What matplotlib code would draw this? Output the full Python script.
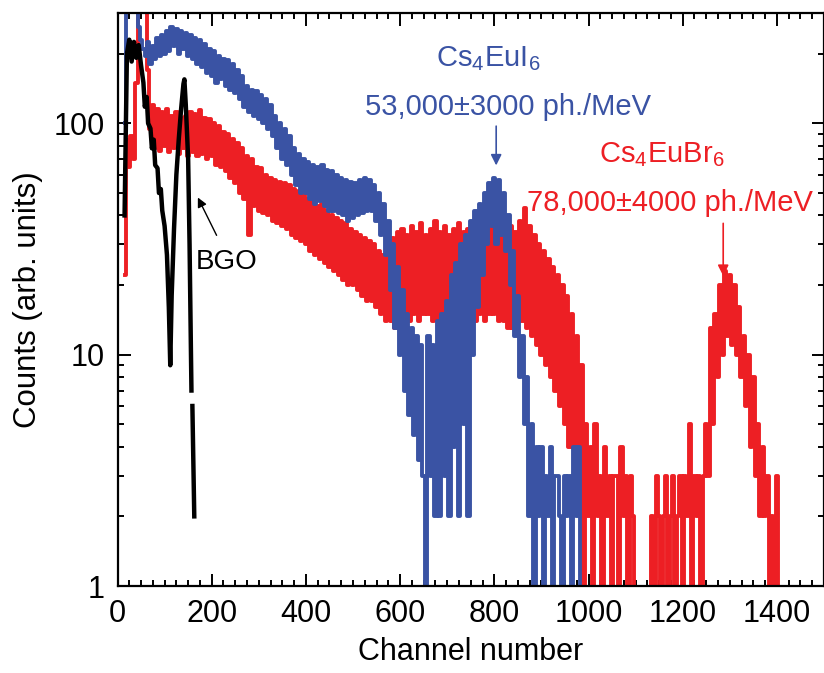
import numpy as np
import matplotlib
matplotlib.use("Agg")
import matplotlib.pyplot as plt
from matplotlib.ticker import MultipleLocator, FixedLocator, LogLocator, FuncFormatter, NullFormatter

BLUE = "#3a53a4"
RED = "#ed1f24"

# Cs4EuI6 spectrum, every 5th channel from 15 to 985 (0 = empty channel)
ch_eui = np.arange(15, 990, 5)
counts_eui = [
    100, 420, 520, 480, 380, 320, 260, 230, 210, 195,
    225, 180, 215, 190, 235, 195, 240, 200, 250, 205,
    262, 215, 255, 200, 250, 210, 245, 195, 240, 190,
    235, 180, 230, 175, 220, 165, 210, 160, 205, 150,
    195, 155, 190, 145, 188, 140, 180, 135, 170, 128,
    160, 118, 145, 112, 140, 108, 138, 104, 132, 100,
    128, 95, 120, 88, 108, 78, 100, 70, 95, 66,
    88, 60, 78, 54, 74, 50, 70, 50, 68, 47,
    66, 45, 65, 46, 66, 44, 63, 42, 62, 42,
    60, 41, 58, 40, 57, 38, 56, 39, 55, 40,
    57, 41, 58, 42, 57, 42, 54, 38, 50, 33,
    45, 27, 38, 19, 30, 13, 24, 10, 19, 7,
    15, 5.5, 13, 4.5, 12, 3.5, 11, 3, 0, 12,
    3, 11, 2, 14, 2, 15, 3, 17, 2, 22,
    4, 25, 2, 30, 5, 33, 2, 38, 10, 42,
    16, 45, 22, 50, 30, 55, 36, 58, 30, 57,
    33, 50, 28, 40, 20, 28, 12, 18, 8, 12,
    5, 8, 2, 5, 0, 4, 2, 4, 0, 3,
    2, 4, 0, 3, 3, 2, 0, 3, 2, 3,
    0, 4, 2, 4, 0,
]

# Cs4EuBr6 spectrum, every 5th channel from 15 to 1405
ch_eubr = np.arange(15, 1410, 5)
counts_eubr = [
    22, 85, 65, 88, 70, 150, 450, 600, 600, 420,
    170, 95, 120, 78, 115, 76, 112, 80, 115, 75,
    108, 78, 112, 74, 105, 78, 108, 72, 112, 75,
    110, 72, 114, 74, 105, 70, 104, 72, 100, 66,
    97, 65, 92, 62, 90, 58, 86, 55, 82, 50,
    78, 47, 72, 33, 70, 44, 65, 42, 64, 41,
    60, 40, 58, 38, 57, 37, 56, 36, 55, 35,
    54, 33, 52, 32, 51, 31, 50, 30, 47, 28,
    46, 27, 44, 26, 45, 25, 42, 24, 40, 23,
    39, 22, 38, 21, 37, 20, 35, 20, 34, 19,
    33, 18, 32, 17, 31, 17, 30, 16, 28, 15,
    27, 14, 29, 14, 32, 13, 34, 13, 35, 14,
    33, 14, 36, 15, 34, 14, 37, 15, 33, 15,
    35, 14, 38, 14, 34, 15, 36, 15, 33, 14,
    35, 14, 37, 15, 34, 14, 35, 14, 33, 14,
    36, 15, 34, 14, 33, 15, 36, 15, 34, 14,
    35, 14, 33, 13, 36, 13, 34, 14, 38, 14,
    43, 13, 36, 12, 33, 11, 30, 10, 28, 9,
    26, 8, 24, 7, 22, 6, 20, 5, 18, 4,
    15, 4, 12, 3, 9, 0, 5, 2, 4, 0,
    5, 2, 3, 0, 4, 2, 3, 0, 3, 3,
    0, 4, 2, 3, 0, 3, 2, 0, 0, 0,
    0, 0, 0, 0, 2, 0, 3, 2, 0, 2,
    3, 0, 2, 3, 0, 2, 3, 0, 3, 2,
    5, 0, 3, 2, 3, 0, 3, 5, 3, 13,
    5, 15, 8, 20, 10, 23, 12, 22, 11, 20,
    10, 16, 8, 12, 6, 10, 4, 8, 3, 5,
    2, 4, 2, 3, 0, 2, 0, 3, 0,
]

# BGO reference spectrum (nan = gap in the trace)
ch_bgo = [15, 20, 25, 30, 35, 40, 45, 50, 55, 58, 62, 65, 70, 73, 77, 80, 85, 88, 92, 95,
          100, 105, 109, 112, 115, 120, 125, 130, 135, 140, 142, 145, 150, 153, 156, 157,
          158, 159, 163]
counts_bgo = [40, 200, 230, 185, 225, 192, 218, 178, 150, 118, 130, 100, 95, 78, 85, 66, 64,
              50, 52, 42, 36, 27, 16, 9, 18, 35, 60, 85, 115, 148, 155, 120, 70, 30, 10, 7,
              np.nan, 6, 2]

plt.rcParams["font.family"] = ["Liberation Sans", "DejaVu Sans"]
plt.rcParams["mathtext.fontset"] = "custom"
plt.rcParams["mathtext.rm"] = "Liberation Sans"
plt.rcParams["mathtext.default"] = "rm"

fig = plt.figure(figsize=(8.24, 6.73), dpi=100)
ax = fig.add_axes([117.5 / 824, 87 / 673, 706.5 / 824, 573 / 673])

# spectra drawn as histograms
ax.plot(ch_eubr, counts_eubr, color=RED, lw=2.8, drawstyle="steps-mid")
ax.plot(ch_eui, counts_eui, color=BLUE, lw=2.8, drawstyle="steps-mid")
ax.plot(ch_bgo, counts_bgo, color="black", lw=3.2)

ax.set_yscale("log")
ax.set_xlim(0, 1500)
ax.set_ylim(1, 300)

ax.xaxis.set_major_locator(FixedLocator([0, 200, 400, 600, 800, 1000, 1200, 1400]))
ax.xaxis.set_minor_locator(MultipleLocator(25))
ax.yaxis.set_major_locator(FixedLocator([1, 10, 100]))
ax.yaxis.set_major_formatter(FuncFormatter(lambda v, p: f"{v:g}"))
ax.yaxis.set_minor_locator(LogLocator(subs=np.arange(2, 10)))
ax.yaxis.set_minor_formatter(NullFormatter())

ax.tick_params(which="both", direction="in", top=True, right=True, labelsize=22, width=1.4)
ax.tick_params(which="major", length=9, pad=9)
ax.tick_params(which="minor", length=4.5)
for s in ax.spines.values():
    s.set_linewidth(1.6)

ax.set_xlabel("Channel number", fontsize=22, labelpad=6)
ax.set_ylabel("Counts (arb. units)", fontsize=22.5, labelpad=8)

# peak labels
ax.text(788, 177, "Cs$_4$EuI$_6$", color=BLUE, fontsize=21, ha="center", va="baseline")
ax.text(830, 109, "53,000\u00b13000 ph./MeV", color=BLUE, fontsize=21, ha="center", va="baseline")
ax.annotate("", xy=(804, 64), xytext=(804, 100),
            arrowprops=dict(arrowstyle="-|>", color=BLUE, lw=1.2, mutation_scale=16))

ax.text(1155, 68, "Cs$_4$EuBr$_6$", color=RED, fontsize=21, ha="center", va="baseline")
ax.text(1172, 41.6, "78,000\u00b14000 ph./MeV", color=RED, fontsize=21, ha="center", va="baseline")
ax.annotate("", xy=(1286, 21.3), xytext=(1286, 38),
            arrowprops=dict(arrowstyle="-|>", color=RED, lw=1.2, mutation_scale=16))

ax.text(232, 23.4, "BGO", color="black", fontsize=20, ha="center", va="baseline")
ax.annotate("", xy=(168, 49), xytext=(213, 32),
            arrowprops=dict(arrowstyle="-|>", color="black", lw=1.0, mutation_scale=14))

fig.savefig("out.png", dpi=100)
